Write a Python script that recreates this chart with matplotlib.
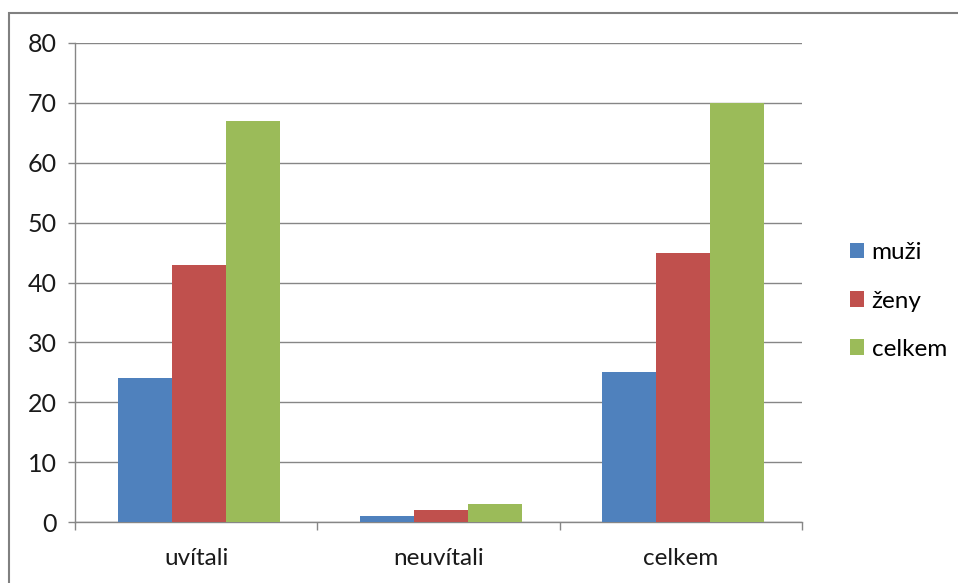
import numpy as np
import matplotlib.pyplot as plt
from matplotlib.patches import Rectangle

# data
categories = ["uvítali", "neuvítali", "celkem"]
series_names = ["muži", "ženy", "celkem"]
muzi = [24, 1, 25]
zeny = [43, 2, 45]
celkem = [67, 3, 70]
colors = ["#4F81BD", "#C0504D", "#9BBB59"]

plt.rcParams['font.family'] = ['Lato', 'DejaVu Sans']
grid_col = "#868686"

fig = plt.figure(figsize=(9.58, 5.83), dpi=100)
ax = fig.add_axes([75 / 958, 1 - 522 / 583, 727 / 958, 479 / 583])

x = np.arange(len(categories))
width = 0.223
for i, (vals, name) in enumerate(zip([muzi, zeny, celkem], series_names)):
    ax.bar(x + 0.01 + (i - 1) * width, vals, width, color=colors[i], label=name, zorder=3)

ax.set_xlim(-0.5, 2.5)
ax.set_ylim(0, 80)
ax.set_yticks(range(0, 81, 10))
ax.yaxis.grid(True, color=grid_col, linewidth=1, zorder=0)

ax.set_xticks(x)
ax.set_xticklabels(categories, fontsize=17.5, color="#1a1a1a")
ax.set_xticks([-0.5, 0.5, 1.5, 2.5], minor=True)
ax.tick_params(axis='x', which='major', length=0, pad=19)
ax.tick_params(axis='x', which='minor', length=6, color=grid_col, width=1)
ax.tick_params(axis='y', length=5, color=grid_col, width=1, labelsize=18, pad=8,
               labelcolor="#1a1a1a")

for side in ['top', 'right']:
    ax.spines[side].set_visible(False)
for side in ['left', 'bottom']:
    ax.spines[side].set_color(grid_col)
    ax.spines[side].set_linewidth(1)

ax.legend(loc='center left', bbox_to_anchor=(840 / 958, 1 - 301 / 583),
          bbox_transform=fig.transFigure, frameon=False, fontsize=17.5,
          handlelength=0.6, handleheight=0.6, handletextpad=0.3,
          labelspacing=1.12, borderaxespad=0)

# outer chart frame
fig.add_artist(Rectangle((9 / 958, -0.05), 1.2, 1 - 13 / 583 + 0.05,
                         transform=fig.transFigure, fill=False,
                         edgecolor="#808080", linewidth=1.5, clip_on=False))

fig.savefig("out.png", dpi=100)
